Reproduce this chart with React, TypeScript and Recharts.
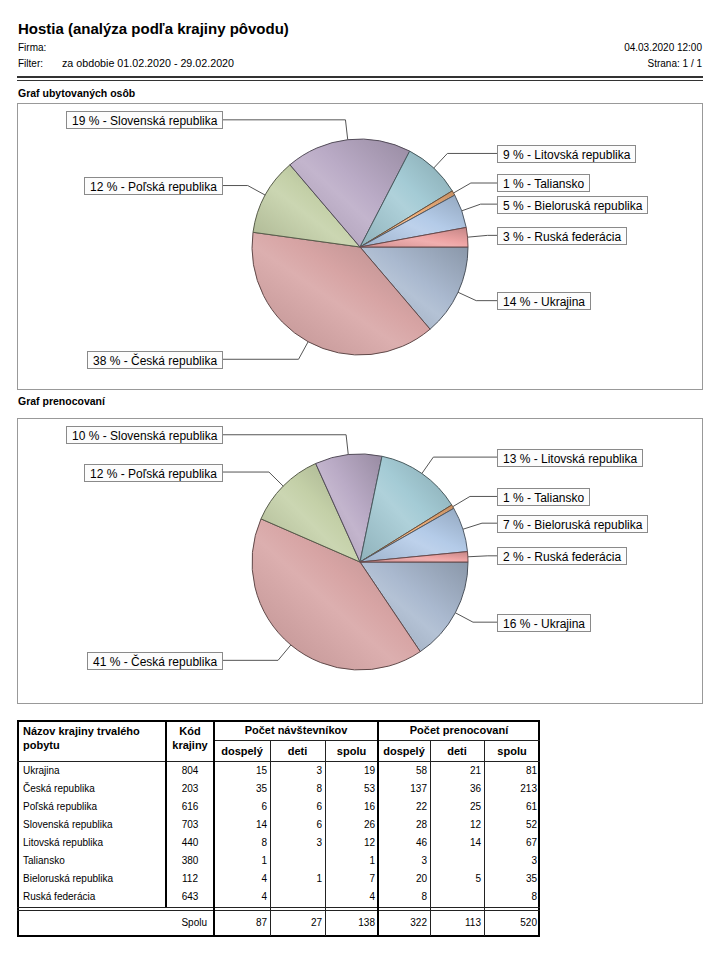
import React from "react";
import { PieChart, Pie, Cell } from "recharts";

const countries = [
  "Ukrajina",
  "Česká republika",
  "Poľská republika",
  "Slovenská republika",
  "Litovská republika",
  "Taliansko",
  "Bieloruská republika",
  "Ruská federácia",
];
const countryCodes = ["804", "203", "616", "703", "440", "380", "112", "643"];
const visitorsAdults = [15, 35, 6, 14, 8, 1, 4, 4];
const visitorsChildren: (number | null)[] = [3, 8, 6, 6, 3, null, 1, null];
const visitorsTotal = [19, 53, 16, 26, 12, 1, 7, 4];
const nightsAdults = [58, 137, 22, 28, 46, 3, 20, 8];
const nightsChildren: (number | null)[] = [21, 36, 25, 12, 14, null, 5, null];
const nightsTotal = [81, 213, 61, 52, 67, 3, 35, 8];
const grandTotals = [87, 27, 138, 322, 113, 520];

const sliceColors = [
  "#a8b8ce",
  "#d6a2a2",
  "#c3cfa6",
  "#b9a9c5",
  "#a2cad4",
  "#f2b07a",
  "#b2cae8",
  "#eea2a2",
];

const FONT = "'Liberation Sans', Arial, sans-serif";

function shade(hex: string, amt: number) {
  const n = parseInt(hex.slice(1), 16);
  const ch = [(n >> 16) & 255, (n >> 8) & 255, n & 255].map((c) => {
    const v = amt >= 0 ? c + (255 - c) * amt : c * (1 + amt);
    return Math.max(0, Math.min(255, Math.round(v)));
  });
  return "#" + ch.map((c) => c.toString(16).padStart(2, "0")).join("");
}

let ctx: CanvasRenderingContext2D | null = null;
function textWidth(text: string, font: string) {
  if (!ctx) ctx = document.createElement("canvas").getContext("2d");
  if (!ctx) return text.length * 6;
  ctx.font = font;
  return ctx.measureText(text).width;
}

function makeLabel(props: any) {
  const { cx, cy, midAngle, outerRadius, percent, name, index } = props;
  const rad = (-midAngle * Math.PI) / 180;
  const cos = Math.cos(rad);
  const sin = Math.sin(rad);
  const x0 = cx + outerRadius * cos;
  const y0 = cy + outerRadius * sin;
  const x1 = cx + (outerRadius + 20) * cos;
  const y1 = cy + (outerRadius + 20) * sin;
  const right = cos >= 0;
  const text = `${Math.round(percent * 100)} % - ${name}`;
  const w = Math.round(textWidth(text, `12px ${FONT}`)) + 11;
  const h = 17;
  const boxX = right ? cx + 137 : cx - 138 - w;
  const lineEnd = right ? boxX : boxX + w;
  const top = Math.round(y1 - h / 2) + 0.5;
  return (
    <g key={`lbl-${index}`}>
      <polyline
        points={`${x0},${y0} ${x1},${y1} ${lineEnd},${y1}`}
        fill="none"
        stroke="#555"
        strokeWidth={1}
      />
      <rect x={Math.round(boxX) + 0.5} y={top} width={w} height={h} fill="#fcfcfc" stroke="#8a8a8a" />
      <text
        x={Math.round(boxX) + 6}
        y={top + h / 2 + 0.5}
        dominantBaseline="central"
        fontSize={12}
        fontFamily={FONT}
        fill="#000"
      >
        {text}
      </text>
    </g>
  );
}

function CountryPie({ id, values }: { id: string; values: number[] }) {
  const data = countries.map((name, i) => ({ name, value: values[i] }));
  return (
    <PieChart width={686} height={287} margin={{ top: 0, right: 0, bottom: 0, left: 0 }}>
      <defs>
        {sliceColors.map((c, i) => (
          <linearGradient key={i} id={`${id}-${i}`} x1="0" y1="1" x2="1" y2="0">
            <stop offset="0%" stopColor={shade(c, -0.12)} />
            <stop offset="45%" stopColor={shade(c, 0.14)} />
            <stop offset="58%" stopColor={shade(c, 0.02)} />
            <stop offset="100%" stopColor={shade(c, -0.18)} />
          </linearGradient>
        ))}
      </defs>
      <Pie
        data={data}
        dataKey="value"
        nameKey="name"
        cx={343}
        cy={144}
        outerRadius={108}
        startAngle={0}
        endAngle={-360}
        isAnimationActive={false}
        labelLine={false}
        label={makeLabel}
      >
        {data.map((_, i) => (
          <Cell key={i} fill={`url(#${id}-${i})`} stroke={shade(sliceColors[i], -0.55)} strokeWidth={1} />
        ))}
      </Pie>
    </PieChart>
  );
}

const cols = [17, 166, 214, 270, 325, 378, 430, 484, 540];
const rowTop = 761;
const rowH = 18;

function DataTable() {
  const numCols = [visitorsAdults, visitorsChildren, visitorsTotal, nightsAdults, nightsChildren, nightsTotal];
  const fmt = (v: number | null) => (v == null ? "" : String(v));
  const sub = ["dospelý", "deti", "spolu", "dospelý", "deti", "spolu"];
  return (
    <g fontFamily={FONT} fill="#000">
      {/* outer frame */}
      <rect x={18} y={721} width={521} height={215} fill="none" stroke="#000" strokeWidth={2} />
      <line x1={214} y1={740.5} x2={540} y2={740.5} stroke="#222" />
      <line x1={17} y1={761.5} x2={540} y2={761.5} stroke="#222" />
      <line x1={17} y1={907.5} x2={540} y2={907.5} stroke="#222" />
      <line x1={17} y1={910.5} x2={540} y2={910.5} stroke="#222" />
      <line x1={166} y1={720} x2={166} y2={907} stroke="#000" strokeWidth={2} />
      <line x1={214} y1={720} x2={214} y2={936} stroke="#000" strokeWidth={2} />
      <line x1={378} y1={720} x2={378} y2={936} stroke="#000" strokeWidth={2} />
      {[270, 325, 430, 484].map((x) => (
        <line key={x} x1={x + 0.5} y1={740} x2={x + 0.5} y2={936} stroke="#222" />
      ))}
      <g fontWeight="bold" fontSize={11}>
        <text x={23} y={731} dominantBaseline="central">Názov krajiny trvalého</text>
        <text x={23} y={745} dominantBaseline="central">pobytu</text>
        <text x={190} y={731} textAnchor="middle" dominantBaseline="central">Kód</text>
        <text x={190} y={745} textAnchor="middle" dominantBaseline="central">krajiny</text>
        <text x={296} y={730} textAnchor="middle" dominantBaseline="central">Počet návštevníkov</text>
        <text x={459} y={730} textAnchor="middle" dominantBaseline="central">Počet prenocovaní</text>
        {sub.map((s, i) => (
          <text key={i} x={(cols[i + 2] + cols[i + 3]) / 2} y={751} textAnchor="middle" dominantBaseline="central">
            {s}
          </text>
        ))}
      </g>
      <g fontSize={10}>
        {countries.map((c, r) => {
          const y = rowTop + rowH * r + 9;
          return (
            <g key={c}>
              <text x={23} y={y} dominantBaseline="central">{c}</text>
              <text x={190} y={y} textAnchor="middle" dominantBaseline="central">{countryCodes[r]}</text>
              {numCols.map((arr, k) => (
                <text key={k} x={cols[k + 3] - 3} y={y} textAnchor="end" dominantBaseline="central">
                  {fmt(arr[r])}
                </text>
              ))}
            </g>
          );
        })}
        <text x={207} y={922} textAnchor="end" dominantBaseline="central">Spolu</text>
        {grandTotals.map((v, k) => (
          <text key={k} x={cols[k + 3] - 3} y={922} textAnchor="end" dominantBaseline="central">
            {v}
          </text>
        ))}
      </g>
    </g>
  );
}

export default function App() {
  return (
    <div style={{ position: "relative", width: 720, height: 954, background: "#fff", fontFamily: FONT }}>
      <style>{"body{margin:0}"}</style>
      <svg width={720} height={954} style={{ position: "absolute", left: 0, top: 0 }}>
        <g fontFamily={FONT} fill="#000">
          <text x={18} y={28} fontSize={15} fontWeight="bold" dominantBaseline="central">
            Hostia (analýza podľa krajiny pôvodu)
          </text>
          <text x={18} y={47} fontSize={10} dominantBaseline="central">Firma:</text>
          <text x={18} y={63} fontSize={10} dominantBaseline="central">Filter:</text>
          <text x={62} y={63} fontSize={10} dominantBaseline="central" textLength={172} lengthAdjust="spacingAndGlyphs">
            za obdobie 01.02.2020 - 29.02.2020
          </text>
          <text x={702} y={47} fontSize={10} textAnchor="end" dominantBaseline="central">04.03.2020 12:00</text>
          <text x={702} y={63} fontSize={10} textAnchor="end" dominantBaseline="central">Strana: 1 / 1</text>
          <line x1={17} y1={77} x2={703} y2={77} stroke="#333" strokeWidth={2} />
          <line x1={17} y1={80.5} x2={703} y2={80.5} stroke="#333" strokeWidth={1} />
          <text x={18} y={93} fontSize={10.5} fontWeight="bold" dominantBaseline="central">Graf ubytovaných osôb</text>
          <text x={18} y={401} fontSize={10.5} fontWeight="bold" dominantBaseline="central">Graf prenocovaní</text>
          <rect x={17.5} y={103.5} width={685} height={286} fill="none" stroke="#999" />
          <rect x={17.5} y={418.5} width={685} height={285} fill="none" stroke="#999" />
        </g>
        <DataTable />
      </svg>
      <div style={{ position: "absolute", left: 17, top: 103 }}>
        <CountryPie id="gv" values={visitorsTotal} />
      </div>
      <div style={{ position: "absolute", left: 17, top: 418 }}>
        <CountryPie id="gn" values={nightsTotal} />
      </div>
    </div>
  );
}
